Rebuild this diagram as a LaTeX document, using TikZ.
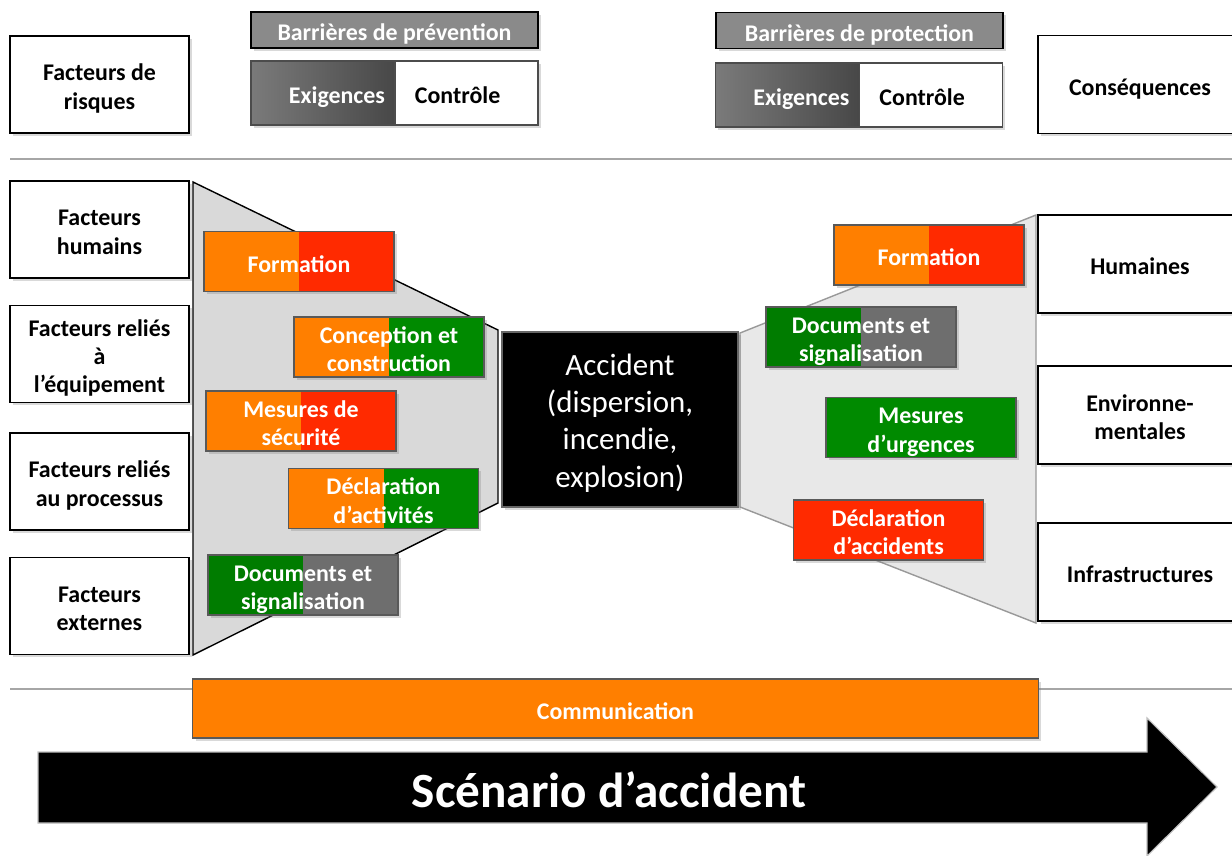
\documentclass[tikz,border=0pt]{standalone}
\usepackage{fontspec}
\setmainfont{Carlito}
\usepackage{xcolor}
\usepackage{tikz}
\usetikzlibrary{shadows}
\definecolor{barorange}{HTML}{FF7F00}
\definecolor{barred}{HTML}{FF2A00}
\definecolor{bargreen}{HTML}{008A00}
\definecolor{bargray}{HTML}{6E6E6E}
\definecolor{headgray}{HTML}{8A8A8A}
\tikzstyle{boxfont}=[font=\bfseries\fontsize{17}{20}\selectfont, execute at begin node={\rule{0pt}{18pt}}, execute at end node={\rule[-3pt]{0pt}{0pt}}]
\tikzstyle{softshadow}=[drop shadow={shadow xshift=2pt, shadow yshift=-2pt, opacity=0.3}]
\tikzstyle{factnode}=[black, draw=black, line width=1pt, shape=rectangle, fill=white, minimum width=4.475cm, minimum height=2.425cm, inner xsep=2pt, inner ysep=0pt, text width=4.3cm, align=flush center, boxfont, softshadow]
\tikzstyle{consnode}=[factnode, minimum width=5.1cm, minimum height=2.45cm, text width=4.9cm]
\tikzstyle{headnode}=[white, draw=black, line width=1pt, shape=rectangle, fill=headgray, minimum width=7.175cm, minimum height=0.9cm, inner sep=0pt, text width=7cm, align=flush center, boxfont, softshadow]
\tikzstyle{reqnode}=[white, draw=black!70, line width=0.8pt, shape=rectangle, left color=black!52, right color=black!72, minimum width=3.6cm, minimum height=1.6cm, inner xsep=0.25cm, inner ysep=0pt, text width=3.1cm, align=flush right, boxfont, softshadow]
\tikzstyle{ctrlnode}=[black, draw=black!70, line width=0.8pt, shape=rectangle, fill=white, minimum width=3.575cm, minimum height=1.6cm, inner xsep=0.5cm, inner ysep=0pt, text width=2.575cm, align=flush left, boxfont, softshadow]
\tikzstyle{barnode}=[white, draw=black!65, line width=0.8pt, shape=rectangle, minimum width=4.75cm, minimum height=1.5cm, inner xsep=2pt, inner ysep=0pt, text width=4.6cm, align=flush center, boxfont, softshadow]
\tikzstyle{orangered}=[barnode, fill=barred, path picture={\fill[barorange] (path picture bounding box.south west) rectangle (path picture bounding box.north);}]
\tikzstyle{orangegreen}=[barnode, fill=bargreen, path picture={\fill[barorange] (path picture bounding box.south west) rectangle (path picture bounding box.north);}]
\tikzstyle{greengray}=[barnode, fill=bargray, path picture={\fill[bargreen!90!black] (path picture bounding box.south west) rectangle (path picture bounding box.north);}]
\tikzstyle{funnelleft}=[fill=black!15, draw=black, line width=1pt]
\tikzstyle{funnelright}=[fill=black!9, draw=black!40, line width=1pt]

\begin{document}
\begin{tikzpicture}[x=0.025cm, y=-0.025cm]
\useasboundingbox (0,0) rectangle (1232,856);
\draw[line width=1.2pt, color=black!35] (10,159) -- (1232,159);
\draw[line width=1.2pt, color=black!35] (10,689) -- (1232,689);
\draw[funnelleft] (193,182) -- (498,330) -- (498,503) -- (193,655) -- cycle;
\draw[funnelright] (740,333) -- (1036,215) -- (1036,623) -- (740,507) -- cycle;

\node [factnode] (risques) at (99.5,84.5) {Facteurs de\\risques};
\node [factnode] (humains) at (99.5,229.5) {Facteurs\\humains};
\node [factnode] (equipement) at (99.5,354) {Facteurs reliés\\à\\l’équipement};
\node [factnode] (processus) at (99.5,481.5) {Facteurs reliés\\au processus};
\node [factnode] (externes) at (99.5,606) {Facteurs\\externes};

\node [headnode] (prevention) at (394.5,30) {Barrières de prévention};
\node [reqnode] (exigprev) at (323,93) {Exigences};
\node [ctrlnode] (ctrlprev) at (466.5,93) {Contrôle};
\node [headnode] (protection) at (859.5,30.5) {Barrières de protection};
\node [reqnode] (exigprot) at (787.5,95) {Exigences};
\node [ctrlnode] (ctrlprot) at (931,95) {Contrôle};

\node [consnode] (consequences) at (1140,84.5) {Conséquences};
\node [consnode] (humaines) at (1140,264) {Humaines};
\node [consnode] (environnement) at (1140,415) {Environne-\\mentales};
\node [consnode] (infrastructures) at (1140,572) {Infrastructures};

\node [orangered] (formprev) at (299,261.5) {Formation};
\node [orangegreen] (conception) at (389,347) {Conception et\\construction};
\node [orangered] (mesuresecu) at (301,421) {Mesures de\\sécurité};
\node [orangegreen] (declactiv) at (383.5,498.5) {Déclaration\\d’activités};
\node [greengray] (docprev) at (303,585) {Documents et\\signalisation};

\node [orangered] (formprot) at (929,255) {Formation};
\node [greengray] (docprot) at (861,337) {Documents et\\signalisation};
\node [barnode, fill=bargreen] (urgences) at (921,427.5) {Mesures\\d’urgences};
\node [barnode, fill=barred] (declacc) at (888.5,530) {Déclaration\\d’accidents};

\node [white, draw=black!60, line width=0.8pt, shape=rectangle, fill=black, minimum width=5.9cm, minimum height=4.375cm, text width=5.6cm, align=flush center, font=\fontsize{22}{26.5}\selectfont, execute at begin node={\rule{0pt}{22.2pt}}, execute at end node={\rule[-5.5pt]{0pt}{0pt}}, softshadow] (accident) at (620,419.5) {Accident\\(dispersion,\\incendie,\\explosion)};

\node [barnode, fill=barorange, minimum width=21.125cm, minimum height=1.475cm, text width=20.9cm] (communication) at (615.5,708.5) {Communication};

\fill[black, draw=black!25, line width=0.8pt] (38,752) -- (1147,752) -- (1147,718) -- (1217,787) -- (1147,856) -- (1147,823) -- (38,823) -- cycle;
\node [white, font=\bfseries\fontsize{35}{40}\selectfont] (scenario) at (609,790) {Scénario d’accident};
\end{tikzpicture}
\end{document}
